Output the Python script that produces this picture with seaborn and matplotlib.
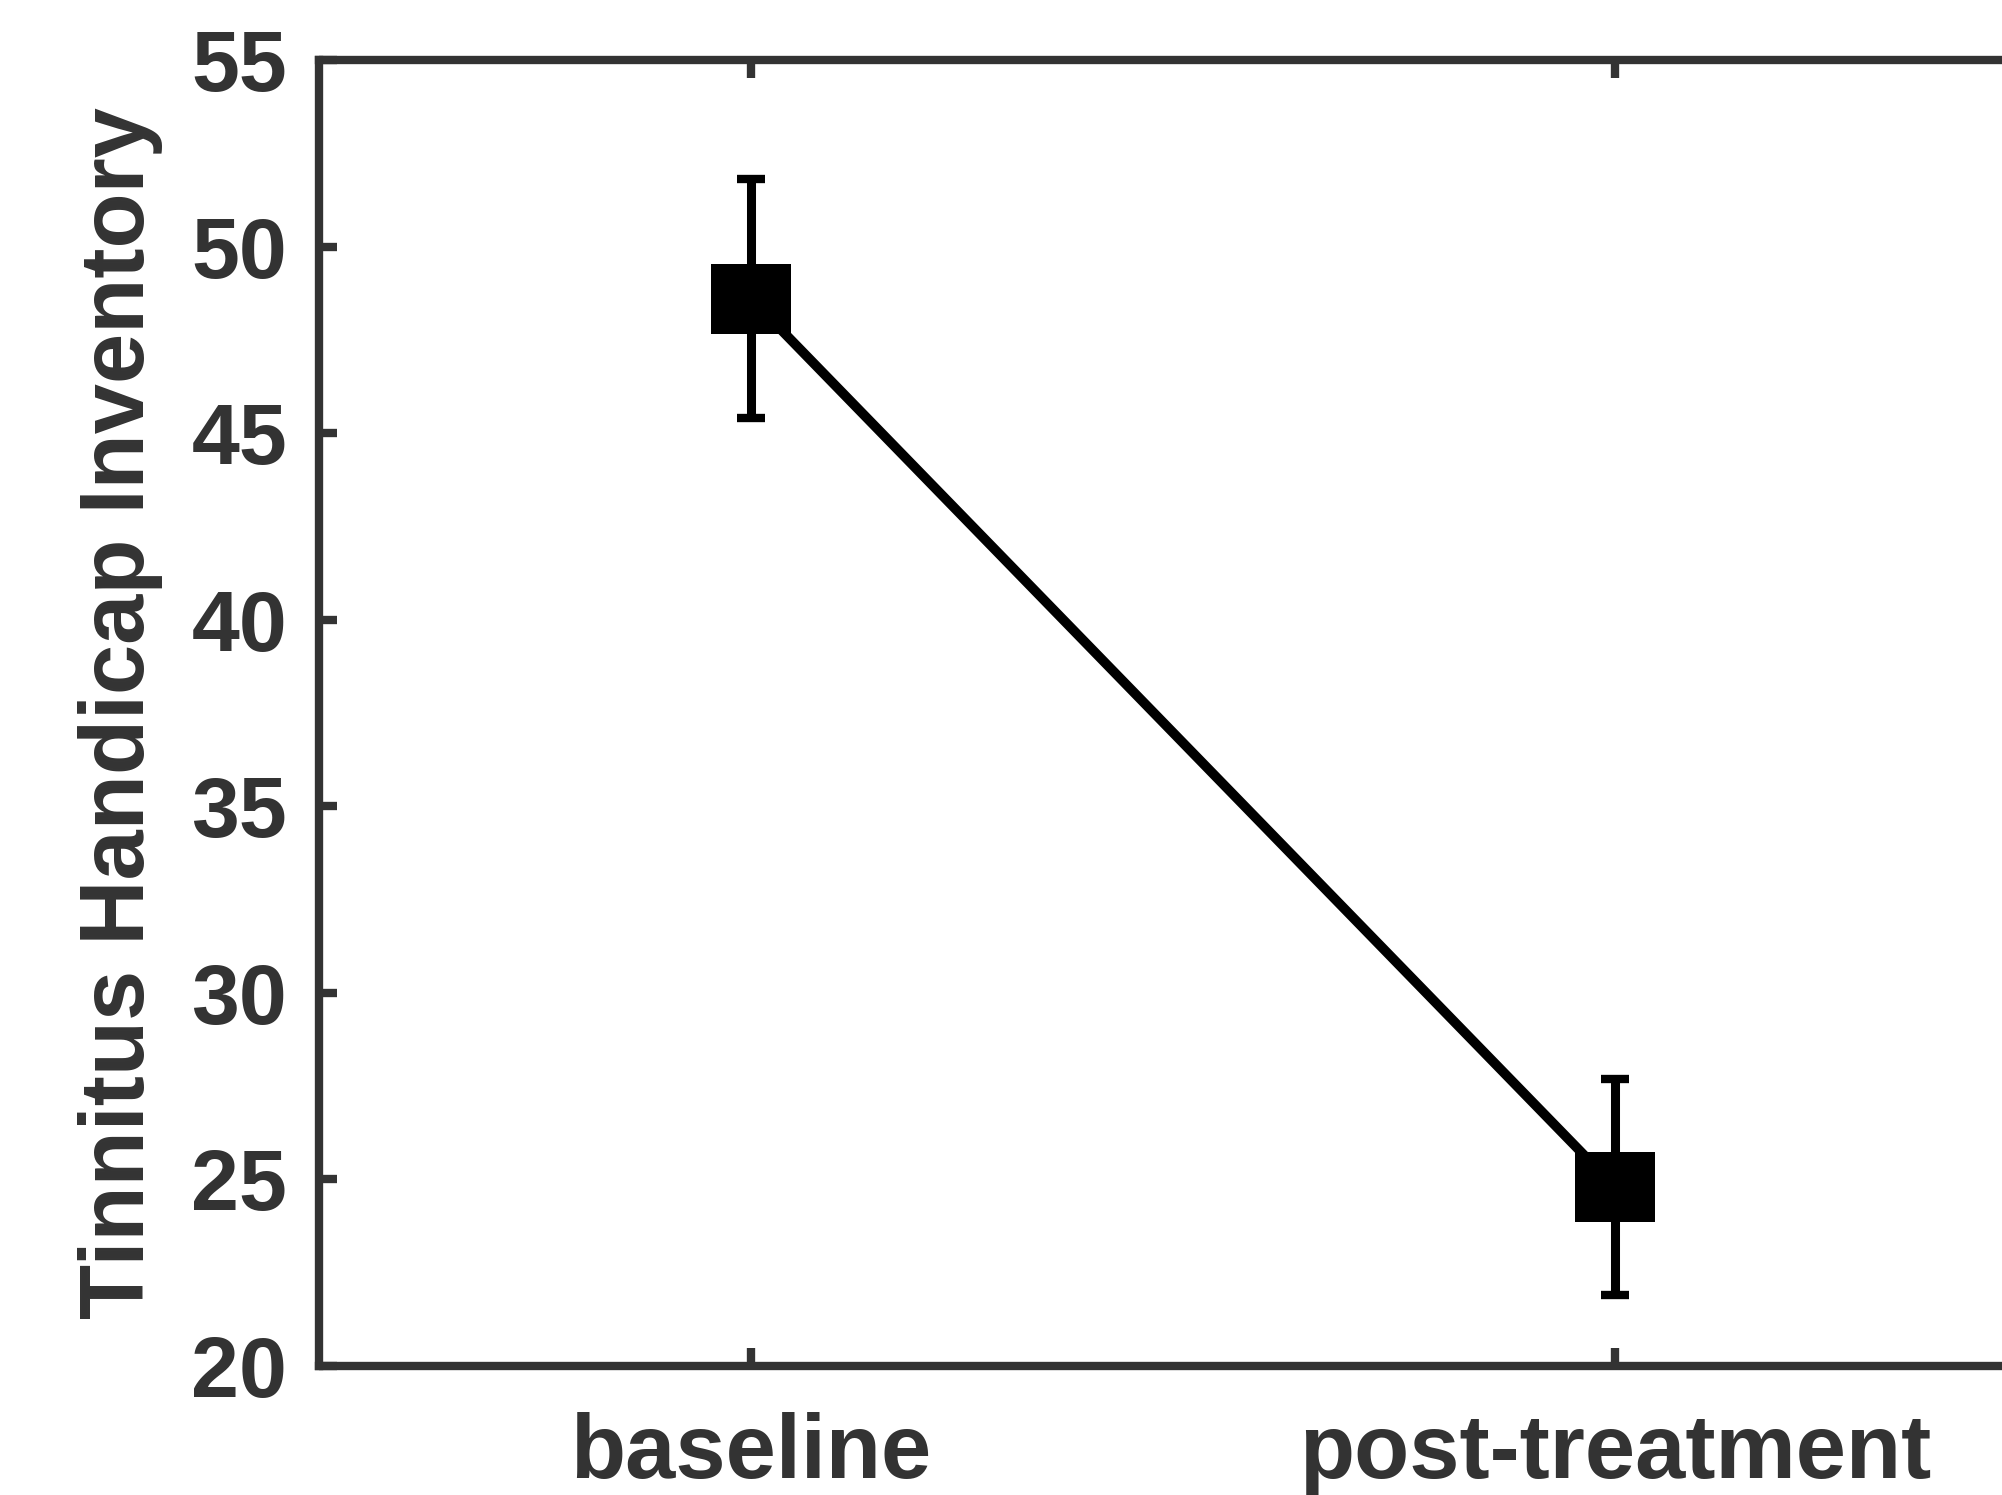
import numpy as np
import pandas as pd
import matplotlib
matplotlib.use('Agg')
import matplotlib.pyplot as plt
import seaborn as sns

# dados
conditions = ['baseline', 'post-treatment']
thi_mean = [48.6, 24.8]
thi_err = [3.2, 2.9]
y_ticks = [20, 25, 30, 35, 40, 45, 50, 55]

sns.set_theme(style='white')
plt.rcParams['font.family'] = ['Liberation Sans', 'DejaVu Sans']
plt.rcParams['font.weight'] = 'bold'

gray = '#333333'
df = pd.DataFrame({'pos': np.arange(1, len(conditions) + 1), 'THI': thi_mean, 'err': thi_err})

fig = plt.figure(figsize=(20.02, 14.95), dpi=100)
ax = fig.add_axes([319 / 2002, 129 / 1495, 1728 / 2002, 1306 / 1495])

# barras de erro (por baixo dos marcadores)
ax.errorbar(df['pos'], df['THI'], yerr=df['err'], fmt='none', ecolor='black',
            elinewidth=6.5, capsize=10, capthick=6, zorder=2)

# marcador retangular, um pouco mais largo que alto
rect = [(-1.0, -0.875), (1.0, -0.875), (1.0, 0.875), (-1.0, 0.875), (-1.0, -0.875)]
sns.lineplot(data=df, x='pos', y='THI', ax=ax, color='black', linewidth=7,
             marker=rect, markersize=57, markeredgewidth=0, zorder=3)

ax.set_xlim(0.5, 2.5)
ax.set_ylim(20, 55)
ax.set_xticks(df['pos'])
ax.set_xticklabels(conditions)
ax.set_yticks(y_ticks)
ax.set_xlabel('')
ax.set_ylabel('Tinnitus Handicap Inventory', fontsize=65, fontweight='bold', color=gray, va='center')
ax.yaxis.set_label_coords(-0.1146, 0.5)

for side in ['left', 'right', 'top', 'bottom']:
    ax.spines[side].set_visible(True)
    ax.spines[side].set_color(gray)
    ax.spines[side].set_linewidth(6)

# ticks para dentro nos quatro lados (o estilo 'white' desliga bottom/left)
ax.tick_params(axis='both', direction='in', length=13, width=6, color=gray,
               labelcolor=gray, top=True, right=True, bottom=True, left=True)
ax.tick_params(axis='y', labelsize=62, pad=23)
ax.tick_params(axis='x', labelsize=65, pad=33)
for lab in ax.get_xticklabels() + ax.get_yticklabels():
    lab.set_fontweight('bold')

fig.savefig('out.png', dpi=100)
